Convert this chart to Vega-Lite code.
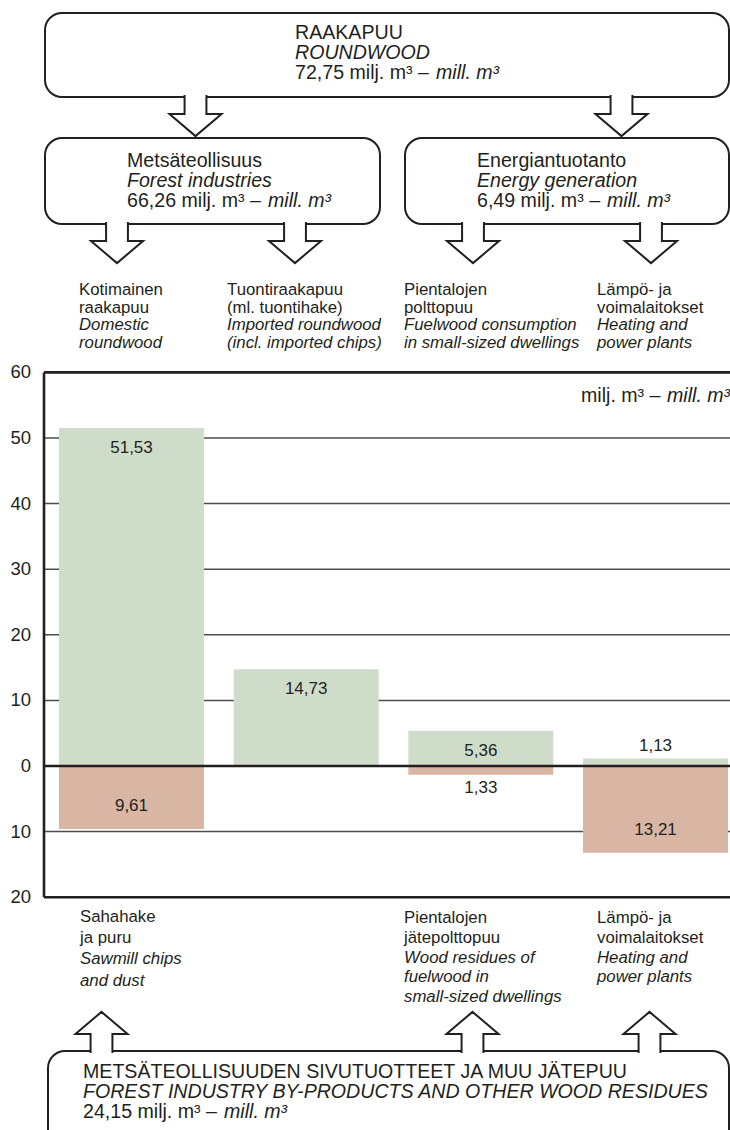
{
  "$schema": "https://vega.github.io/schema/vega-lite/v6.json",
  "width": 686,
  "height": 1130,
  "autosize": {"type": "none"},
  "padding": {"left": 44, "top": 0, "right": 0, "bottom": 0},
  "background": "white",
  "config": {"view": {"stroke": null}, "text": {"font": "Liberation Sans"}},
  "datasets": {
    "bars": [
      {"col": "Domestic", "flow": "raw", "value": 51.53, "label": "51,53", "pos": "in"},
      {"col": "Domestic", "flow": "residue", "value": -9.61, "label": "9,61", "pos": "in"},
      {"col": "Imported", "flow": "raw", "value": 14.73, "label": "14,73", "pos": "in"},
      {"col": "Dwellings", "flow": "raw", "value": 5.36, "label": "5,36", "pos": "in"},
      {"col": "Dwellings", "flow": "residue", "value": -1.33, "label": "1,33", "pos": "out"},
      {"col": "Plants", "flow": "raw", "value": 1.13, "label": "1,13", "pos": "out"},
      {"col": "Plants", "flow": "residue", "value": -13.21, "label": "13,21", "pos": "in"}
    ],
    "boxes": [
      {"x0": 45, "x1": 729, "y0": 114.79, "y1": 101.98},
      {"x0": 45, "x1": 380, "y0": 95.73, "y1": 82.62},
      {"x0": 405, "x1": 729, "y0": 95.73, "y1": 82.62},
      {"x0": 48, "x1": 729, "y0": -43.45, "y1": -62}
    ],
    "arrows": [
      {"x": 195.5, "y": 99.01, "dir": "down"},
      {"x": 621.5, "y": 99.01, "dir": "down"},
      {"x": 117, "y": 79.65, "dir": "down"},
      {"x": 295, "y": 79.65, "dir": "down"},
      {"x": 473, "y": 79.65, "dir": "down"},
      {"x": 651, "y": 79.65, "dir": "down"},
      {"x": 101.5, "y": -40.47, "dir": "up"},
      {"x": 472.5, "y": -40.47, "dir": "up"},
      {"x": 649.5, "y": -40.47, "dir": "up"}
    ],
    "ticklabels": [
      {"v": 60, "t": "60"}, {"v": 50, "t": "50"}, {"v": 40, "t": "40"}, {"v": 30, "t": "30"},
      {"v": 20, "t": "20"}, {"v": 10, "t": "10"}, {"v": 0, "t": "0"}, {"v": -10, "t": "10"}, {"v": -20, "t": "20"}
    ],
    "texts": [
      {"x": 295, "y": 110.9, "text": "RAAKAPUU", "role": "box", "lang": "fi"},
      {"x": 295, "y": 107.85, "text": "ROUNDWOOD", "role": "box", "lang": "en"},
      {"x": 295, "y": 104.8, "text": "72,75 milj. m³ –", "role": "box", "lang": "fi"},
      {"x": 436, "y": 104.8, "text": "mill. m³", "role": "box", "lang": "en"},
      {"x": 127, "y": 91.31, "text": "Metsäteollisuus", "role": "box", "lang": "fi"},
      {"x": 127, "y": 88.26, "text": "Forest industries", "role": "box", "lang": "en"},
      {"x": 127, "y": 85.21, "text": "66,26 milj. m³ –", "role": "box", "lang": "fi"},
      {"x": 268, "y": 85.21, "text": "mill. m³", "role": "box", "lang": "en"},
      {"x": 477, "y": 91.31, "text": "Energiantuotanto", "role": "box", "lang": "fi"},
      {"x": 477, "y": 88.26, "text": "Energy generation", "role": "box", "lang": "en"},
      {"x": 477, "y": 85.21, "text": "6,49 milj. m³ –", "role": "box", "lang": "fi"},
      {"x": 607, "y": 85.21, "text": "mill. m³", "role": "box", "lang": "en"},
      {"x": 581, "y": 55.53, "text": "milj. m³ –", "role": "box", "lang": "fi"},
      {"x": 667, "y": 55.53, "text": "mill. m³", "role": "box", "lang": "en"},
      {"x": 83, "y": -47.56, "text": "METSÄTEOLLISUUDEN SIVUTUOTTEET JA MUU JÄTEPUU", "role": "box", "lang": "fi"},
      {"x": 83, "y": -50.61, "text": "FOREST INDUSTRY BY-PRODUCTS AND OTHER WOOD RESIDUES", "role": "box", "lang": "en"},
      {"x": 83, "y": -53.66, "text": "24,15 milj. m³ –", "role": "box", "lang": "fi"},
      {"x": 224, "y": -53.66, "text": "mill. m³", "role": "box", "lang": "en"},
      {"x": 79, "y": 71.8, "text": "Kotimainen", "role": "label", "lang": "fi"},
      {"x": 79, "y": 69.1, "text": "raakapuu", "role": "label", "lang": "fi"},
      {"x": 79, "y": 66.39, "text": "Domestic", "role": "label", "lang": "en"},
      {"x": 79, "y": 63.67, "text": "roundwood", "role": "label", "lang": "en"},
      {"x": 227, "y": 71.8, "text": "Tuontiraakapuu", "role": "label", "lang": "fi"},
      {"x": 227, "y": 69.1, "text": "(ml. tuontihake)", "role": "label", "lang": "fi"},
      {"x": 227, "y": 66.39, "text": "Imported roundwood", "role": "label", "lang": "en"},
      {"x": 227, "y": 63.67, "text": "(incl. imported chips)", "role": "label", "lang": "en"},
      {"x": 404, "y": 71.8, "text": "Pientalojen", "role": "label", "lang": "fi"},
      {"x": 404, "y": 69.1, "text": "polttopuu", "role": "label", "lang": "fi"},
      {"x": 404, "y": 66.39, "text": "Fuelwood consumption", "role": "label", "lang": "en"},
      {"x": 404, "y": 63.67, "text": "in small-sized dwellings", "role": "label", "lang": "en"},
      {"x": 597, "y": 71.8, "text": "Lämpö- ja", "role": "label", "lang": "fi"},
      {"x": 597, "y": 69.1, "text": "voimalaitokset", "role": "label", "lang": "fi"},
      {"x": 597, "y": 66.39, "text": "Heating and", "role": "label", "lang": "en"},
      {"x": 597, "y": 63.67, "text": "power plants", "role": "label", "lang": "en"},
      {"x": 80, "y": -23.73, "text": "Sahahake", "role": "label", "lang": "fi"},
      {"x": 80, "y": -26.98, "text": "ja puru", "role": "label", "lang": "fi"},
      {"x": 80, "y": -30.23, "text": "Sawmill chips", "role": "label", "lang": "en"},
      {"x": 80, "y": -33.49, "text": "and dust", "role": "label", "lang": "en"},
      {"x": 404, "y": -23.98, "text": "Pientalojen", "role": "label", "lang": "fi"},
      {"x": 404, "y": -26.98, "text": "jätepolttopuu", "role": "label", "lang": "fi"},
      {"x": 404, "y": -29.98, "text": "Wood residues of", "role": "label", "lang": "en"},
      {"x": 404, "y": -32.99, "text": "fuelwood in", "role": "label", "lang": "en"},
      {"x": 404, "y": -35.98, "text": "small-sized dwellings", "role": "label", "lang": "en"},
      {"x": 597, "y": -23.98, "text": "Lämpö- ja", "role": "label", "lang": "fi"},
      {"x": 597, "y": -26.98, "text": "voimalaitokset", "role": "label", "lang": "fi"},
      {"x": 597, "y": -29.98, "text": "Heating and", "role": "label", "lang": "en"},
      {"x": 597, "y": -32.99, "text": "power plants", "role": "label", "lang": "en"}
    ],
    "gridlines": [{"v": 10}, {"v": 20}, {"v": 30}, {"v": 40}, {"v": 50}, {"v": -10}],
    "framelines": [{"v": 60}, {"v": 0}, {"v": -20}],
    "axisline": [{"lo": -20, "hi": 60}]
  },
  "resolve": {"scale": {"x": "independent"}},
  "layer": [
    {
      "data": {"name": "boxes"},
      "mark": {"type": "rect", "cornerRadius": 17, "fill": "white", "stroke": "#231f20", "strokeWidth": 2, "clip": true},
      "encoding": {
        "x": {"field": "x0", "type": "quantitative", "scale": {"domain": [44, 730], "nice": false, "zero": false}, "axis": null},
        "x2": {"field": "x1"},
        "y": {"field": "y0", "type": "quantitative", "scale": {"domain": [-55.49, 116.77], "nice": false, "zero": false}, "axis": null},
        "y2": {"field": "y1"}
      }
    },
    {
      "data": {"name": "arrows"},
      "transform": [{"filter": "datum.dir === 'down'"}],
      "mark": {"type": "point", "shape": "M-0.39,-0.77L-0.39,-0.09L-0.93,-0.09L0,0.7L0.93,-0.09L0.39,-0.09L0.39,-0.77", "size": 3136, "filled": true, "fill": "white", "stroke": "#231f20", "strokeWidth": 2, "opacity": 1},
      "encoding": {
        "x": {"field": "x", "type": "quantitative", "scale": {"domain": [44, 730], "nice": false, "zero": false}, "axis": null},
        "y": {"field": "y", "type": "quantitative", "scale": {"domain": [-55.49, 116.77], "nice": false, "zero": false}, "axis": null}
      }
    },
    {
      "data": {"name": "arrows"},
      "transform": [{"filter": "datum.dir === 'up'"}],
      "mark": {"type": "point", "shape": "M-0.39,0.77L-0.39,0.09L-0.93,0.09L0,-0.7L0.93,0.09L0.39,0.09L0.39,0.77", "size": 3136, "filled": true, "fill": "white", "stroke": "#231f20", "strokeWidth": 2, "opacity": 1},
      "encoding": {
        "x": {"field": "x", "type": "quantitative", "scale": {"domain": [44, 730], "nice": false, "zero": false}, "axis": null},
        "y": {"field": "y", "type": "quantitative", "scale": {"domain": [-55.49, 116.77], "nice": false, "zero": false}, "axis": null}
      }
    },
    {
      "data": {"name": "texts"},
      "transform": [{"filter": "datum.role === 'box' && datum.lang === 'fi'"}],
      "mark": {"type": "text", "align": "left", "baseline": "alphabetic", "fontSize": 19.6, "font": "Liberation Sans", "color": "#231f20"},
      "encoding": {
        "x": {"field": "x", "type": "quantitative", "scale": {"domain": [44, 730], "nice": false, "zero": false}, "axis": null},
        "y": {"field": "y", "type": "quantitative", "scale": {"domain": [-55.49, 116.77], "nice": false, "zero": false}, "axis": null},
        "text": {"field": "text"}
      }
    },
    {
      "data": {"name": "texts"},
      "transform": [{"filter": "datum.role === 'box' && datum.lang === 'en'"}],
      "mark": {"type": "text", "align": "left", "baseline": "alphabetic", "fontSize": 19.6, "fontStyle": "italic", "font": "Liberation Sans", "color": "#231f20"},
      "encoding": {
        "x": {"field": "x", "type": "quantitative", "scale": {"domain": [44, 730], "nice": false, "zero": false}, "axis": null},
        "y": {"field": "y", "type": "quantitative", "scale": {"domain": [-55.49, 116.77], "nice": false, "zero": false}, "axis": null},
        "text": {"field": "text"}
      }
    },
    {
      "data": {"name": "texts"},
      "transform": [{"filter": "datum.role === 'label' && datum.lang === 'fi'"}],
      "mark": {"type": "text", "align": "left", "baseline": "alphabetic", "fontSize": 16.8, "font": "Liberation Sans", "color": "#231f20"},
      "encoding": {
        "x": {"field": "x", "type": "quantitative", "scale": {"domain": [44, 730], "nice": false, "zero": false}, "axis": null},
        "y": {"field": "y", "type": "quantitative", "scale": {"domain": [-55.49, 116.77], "nice": false, "zero": false}, "axis": null},
        "text": {"field": "text"}
      }
    },
    {
      "data": {"name": "texts"},
      "transform": [{"filter": "datum.role === 'label' && datum.lang === 'en'"}],
      "mark": {"type": "text", "align": "left", "baseline": "alphabetic", "fontSize": 16.8, "fontStyle": "italic", "font": "Liberation Sans", "color": "#231f20"},
      "encoding": {
        "x": {"field": "x", "type": "quantitative", "scale": {"domain": [44, 730], "nice": false, "zero": false}, "axis": null},
        "y": {"field": "y", "type": "quantitative", "scale": {"domain": [-55.49, 116.77], "nice": false, "zero": false}, "axis": null},
        "text": {"field": "text"}
      }
    },
    {
      "data": {"name": "ticklabels"},
      "mark": {"type": "text", "align": "right", "baseline": "middle", "dx": -13, "fontSize": 18.5, "font": "Liberation Sans", "color": "#231f20"},
      "encoding": {
        "x": {"datum": 44, "type": "quantitative", "scale": {"domain": [44, 730], "nice": false, "zero": false}, "axis": null},
        "y": {"field": "v", "type": "quantitative", "scale": {"domain": [-55.49, 116.77], "nice": false, "zero": false}, "axis": null},
        "text": {"field": "t"}
      }
    },
    {
      "data": {"name": "gridlines"},
      "mark": {"type": "rule", "stroke": "#4d4d4d", "strokeWidth": 1.5},
      "encoding": {
        "x": {"datum": 44, "type": "quantitative", "scale": {"domain": [44, 730], "nice": false, "zero": false}, "axis": null},
        "x2": {"datum": 730},
        "y": {"field": "v", "type": "quantitative", "scale": {"domain": [-55.49, 116.77], "nice": false, "zero": false}, "axis": null}
      }
    },
    {
      "data": {"name": "bars"},
      "mark": {"type": "bar"},
      "encoding": {
        "x": {"field": "col", "type": "nominal", "scale": {"type": "band", "domain": ["Domestic", "Imported", "Dwellings", "Plants"], "range": [15, 684], "paddingInner": 0.17, "paddingOuter": 0}, "axis": null},
        "y": {"field": "value", "type": "quantitative", "scale": {"domain": [-55.49, 116.77], "nice": false, "zero": false},
          "axis": {"values": [-20, -10, 0, 10, 20, 30, 40, 50, 60], "title": null, "domain": false, "grid": false, "ticks": true, "tickSize": 5, "tickWidth": 1.5, "tickColor": "#231f20", "labels": false}},
        "y2": {"datum": 0},
        "color": {"field": "flow", "type": "nominal", "scale": {"domain": ["raw", "residue"], "range": ["#d0dcca", "#d9b6a3"]}, "legend": null}
      }
    },
    {
      "data": {"name": "framelines"},
      "mark": {"type": "rule", "stroke": "#231f20", "strokeWidth": 2.6},
      "encoding": {
        "x": {"datum": 44, "type": "quantitative", "scale": {"domain": [44, 730], "nice": false, "zero": false}, "axis": null},
        "x2": {"datum": 730},
        "y": {"field": "v", "type": "quantitative", "scale": {"domain": [-55.49, 116.77], "nice": false, "zero": false}, "axis": null}
      }
    },
    {
      "data": {"name": "axisline"},
      "mark": {"type": "rule", "stroke": "#231f20", "strokeWidth": 2.6},
      "encoding": {
        "x": {"datum": 44, "type": "quantitative", "scale": {"domain": [44, 730], "nice": false, "zero": false}, "axis": null},
        "y": {"field": "lo", "type": "quantitative", "scale": {"domain": [-55.49, 116.77], "nice": false, "zero": false}, "axis": null},
        "y2": {"field": "hi"}
      }
    },
    {
      "data": {"name": "bars"},
      "transform": [{"filter": "datum.flow === 'raw' && datum.pos === 'in'"}],
      "mark": {"type": "text", "baseline": "middle", "align": "center", "dy": 20, "fontSize": 17, "font": "Liberation Sans", "color": "#231f20"},
      "encoding": {
        "x": {"field": "col", "type": "nominal", "scale": {"type": "band", "domain": ["Domestic", "Imported", "Dwellings", "Plants"], "range": [15, 684], "paddingInner": 0.17, "paddingOuter": 0}, "axis": null},
        "y": {"field": "value", "type": "quantitative", "scale": {"domain": [-55.49, 116.77], "nice": false, "zero": false}, "axis": null},
        "text": {"field": "label"}
      }
    },
    {
      "data": {"name": "bars"},
      "transform": [{"filter": "datum.flow === 'raw' && datum.pos === 'out'"}],
      "mark": {"type": "text", "baseline": "middle", "align": "center", "dy": -13, "fontSize": 17, "font": "Liberation Sans", "color": "#231f20"},
      "encoding": {
        "x": {"field": "col", "type": "nominal", "scale": {"type": "band", "domain": ["Domestic", "Imported", "Dwellings", "Plants"], "range": [15, 684], "paddingInner": 0.17, "paddingOuter": 0}, "axis": null},
        "y": {"field": "value", "type": "quantitative", "scale": {"domain": [-55.49, 116.77], "nice": false, "zero": false}, "axis": null},
        "text": {"field": "label"}
      }
    },
    {
      "data": {"name": "bars"},
      "transform": [{"filter": "datum.flow === 'residue' && datum.pos === 'in'"}],
      "mark": {"type": "text", "baseline": "middle", "align": "center", "dy": -23, "fontSize": 17, "font": "Liberation Sans", "color": "#231f20"},
      "encoding": {
        "x": {"field": "col", "type": "nominal", "scale": {"type": "band", "domain": ["Domestic", "Imported", "Dwellings", "Plants"], "range": [15, 684], "paddingInner": 0.17, "paddingOuter": 0}, "axis": null},
        "y": {"field": "value", "type": "quantitative", "scale": {"domain": [-55.49, 116.77], "nice": false, "zero": false}, "axis": null},
        "text": {"field": "label"}
      }
    },
    {
      "data": {"name": "bars"},
      "transform": [{"filter": "datum.flow === 'residue' && datum.pos === 'out'"}],
      "mark": {"type": "text", "baseline": "middle", "align": "center", "dy": 13, "fontSize": 17, "font": "Liberation Sans", "color": "#231f20"},
      "encoding": {
        "x": {"field": "col", "type": "nominal", "scale": {"type": "band", "domain": ["Domestic", "Imported", "Dwellings", "Plants"], "range": [15, 684], "paddingInner": 0.17, "paddingOuter": 0}, "axis": null},
        "y": {"field": "value", "type": "quantitative", "scale": {"domain": [-55.49, 116.77], "nice": false, "zero": false}, "axis": null},
        "text": {"field": "label"}
      }
    }
  ]
}
